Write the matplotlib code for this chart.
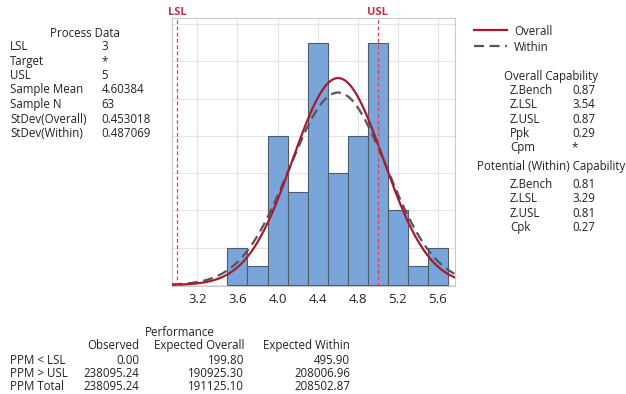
import numpy as np
import matplotlib
matplotlib.use("Agg")
import matplotlib.pyplot as plt
from matplotlib.lines import Line2D

# ---- data ----
bin_centers = [3.6, 3.8, 4.0, 4.2, 4.4, 4.6, 4.8, 5.0, 5.2, 5.4, 5.6]
counts = [2, 1, 8, 5, 13, 6, 8, 13, 4, 1, 2]
bin_width = 0.2
lsl = 3.0
usl = 5.0
sample_mean = 4.60384
sample_n = 63
sd_overall = 0.453018
sd_within = 0.487069
xticks = [3.2, 3.6, 4.0, 4.4, 4.8, 5.2, 5.6]

process_labels = ["LSL", "Target", "USL", "Sample Mean", "Sample N", "StDev(Overall)", "StDev(Within)"]
process_values = ["3", "*", "5", "4.60384", "63", "0.453018", "0.487069"]

overall_labels = ["Z.Bench", "Z.LSL", "Z.USL", "Ppk", "Cpm"]
overall_values = ["0.87", "3.54", "0.87", "0.29", "*"]
within_labels = ["Z.Bench", "Z.LSL", "Z.USL", "Cpk"]
within_values = ["0.81", "3.29", "0.81", "0.27"]

perf_rows = ["PPM < LSL", "PPM > USL", "PPM Total"]
perf_cols = ["Observed", "Expected Overall", "Expected Within"]
perf_observed = ["0.00", "238095.24", "238095.24"]
perf_exp_overall = ["199.80", "190925.30", "191125.10"]
perf_exp_within = ["495.90", "208006.96", "208502.87"]

# ---- figure ----
W, H = 626, 394
fig = plt.figure(figsize=(W / 100, H / 100), dpi=100)
plt.rcParams['font.family'] = ['Open Sans', 'DejaVu Sans']

def fx(px):
    return px / W

def fy(py):
    return 1 - py / H

ax = fig.add_axes([fx(172.3), fy(286), fx(455) - fx(172.3), fy(18.3) - fy(286)])

bar_color = '#7AA5DA'
ax.bar(bin_centers, counts, width=bin_width, color=bar_color, edgecolor='#4F5B66',
       linewidth=0.8, zorder=2)

xs = np.linspace(2.95, 5.77, 400)
def npdf(x, m, s):
    return np.exp(-0.5 * ((x - m) / s) ** 2) / (s * np.sqrt(2 * np.pi))
scale = sample_n * bin_width
ax.plot(xs, scale * npdf(xs, sample_mean, sd_within), color='#555555', lw=1.6,
        ls=(0, (4.5, 2.5)), zorder=3)
ax.plot(xs, scale * npdf(xs, sample_mean, sd_overall), color='#A51C30', lw=1.6, zorder=4)

ax.set_xlim(2.95, 5.77)
ax.set_ylim(-0.05, 14.3)
ax.set_xticks(xticks)
ax.set_xticklabels([f"{t:.1f}" for t in xticks], fontsize=9.5, color='#262626')
ax.set_yticks(np.arange(0, 15, 2))
ax.set_yticklabels([])
ax.tick_params(axis='y', length=0)
ax.tick_params(axis='x', length=0, pad=5)
ax.grid(True, color='#E4E4E4', lw=0.8, zorder=0)
ax.set_axisbelow(True)
for s in ax.spines.values():
    s.set_color('#C8C8C8')
    s.set_linewidth(0.8)

# spec lines
spec_color = '#E0405A'
for v, name in [(lsl, 'LSL'), (usl, 'USL')]:
    ax.axvline(v, color=spec_color, lw=0.9, ls=(0, (3, 2)), zorder=5)
    ax.annotate(name, xy=(v, 1), xycoords=('data', 'axes fraction'),
                xytext=(0, 4), textcoords='offset points', ha='center', va='center',
                fontsize=8, color='#C0304A', fontweight='bold')

fs = 8.3
tc = '#222222'
VA = 'center_baseline'

# process data
fig.text(fx(85), fy(32), "Process Data", ha='center', va=VA, fontsize=fs, color=tc)
ys = [45, 60, 74, 88, 103, 118, 132]
for lab, val, y in zip(process_labels, process_values, ys):
    fig.text(fx(10), fy(y), lab, ha='left', va=VA, fontsize=fs, color=tc)
    fig.text(fx(101.5), fy(y), val, ha='left', va=VA, fontsize=fs, color=tc)

# legend
fig.add_artist(Line2D([fx(474), fx(507)], [fy(30), fy(30)], color='#A51C30', lw=1.6))
fig.add_artist(Line2D([fx(474), fx(507)], [fy(46), fy(46)], color='#555555', lw=1.6,
                      ls=(0, (4.5, 2.5))))
fig.text(fx(514), fy(30), "Overall", ha='left', va=VA, fontsize=fs, color=tc)
fig.text(fx(514), fy(46), "Within", ha='left', va=VA, fontsize=fs, color=tc)

# overall capability
fig.text(fx(551.5), fy(75), "Overall Capability", ha='center', va=VA, fontsize=fs, color=tc)
for lab, val, y in zip(overall_labels, overall_values, [89, 103, 118, 132, 146]):
    fig.text(fx(510), fy(y), lab, ha='left', va=VA, fontsize=fs, color=tc)
    fig.text(fx(572), fy(y), val, ha='left', va=VA, fontsize=fs, color=tc)

fig.text(fx(551), fy(165), "Potential (Within) Capability", ha='center', va=VA,
         fontsize=fs, color=tc)
for lab, val, y in zip(within_labels, within_values, [183, 197, 212, 226]):
    fig.text(fx(510), fy(y), lab, ha='left', va=VA, fontsize=fs, color=tc)
    fig.text(fx(572), fy(y), val, ha='left', va=VA, fontsize=fs, color=tc)

# performance table
fig.text(fx(180), fy(331), "Performance", ha='center', va=VA, fontsize=fs, color=tc)
col_right = [139, 244, 350]
for c, xr in zip(perf_cols, col_right):
    fig.text(fx(xr), fy(344), c, ha='right', va=VA, fontsize=fs, color=tc)
for i, (r, y) in enumerate(zip(perf_rows, [359, 372, 385])):
    fig.text(fx(10), fy(y), r, ha='left', va=VA, fontsize=fs, color=tc)
    for vals, xr in zip([perf_observed, perf_exp_overall, perf_exp_within], col_right):
        fig.text(fx(xr), fy(y), vals[i], ha='right', va=VA, fontsize=fs, color=tc)

fig.savefig("out.png", dpi=100)
